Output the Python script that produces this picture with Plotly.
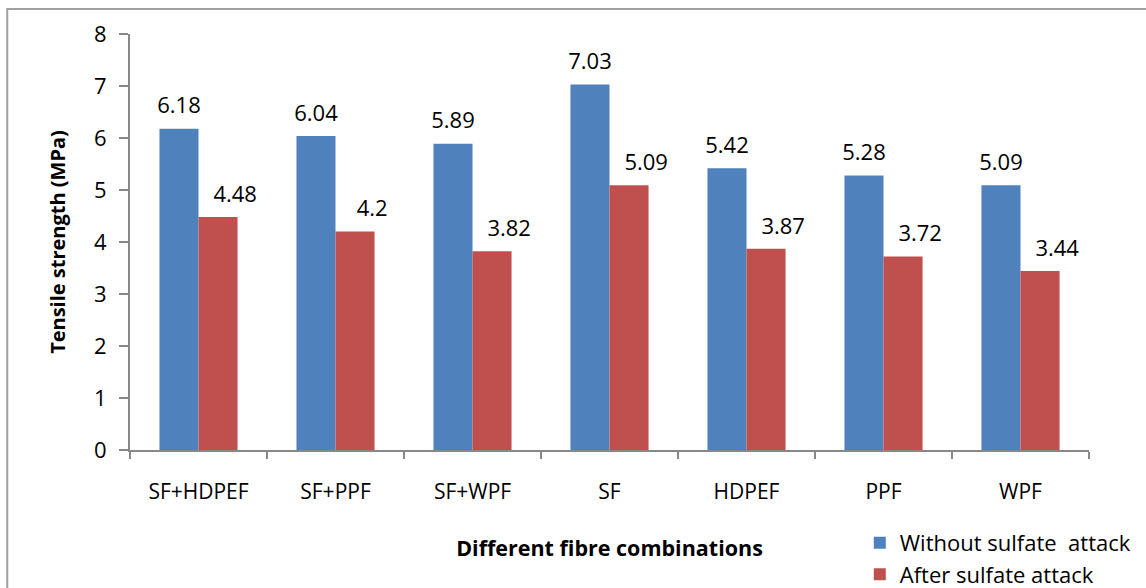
import plotly.graph_objects as go

categories = ["SF+HDPEF", "SF+PPF", "SF+WPF", "SF", "HDPEF", "PPF", "WPF"]
without_attack = [6.18, 6.04, 5.89, 7.03, 5.42, 5.28, 5.09]
after_attack = [4.48, 4.2, 3.82, 5.09, 3.87, 3.72, 3.44]
without_labels = ["6.18", "6.04", "5.89", "7.03", "5.42", "5.28", "5.09"]
after_labels = ["4.48", "4.2", "3.82", "5.09", "3.87", "3.72", "3.44"]

FONT = "Open Sans"
BLUE = "#4F81BD"
RED = "#C0504D"
fig = go.Figure()
fig.add_trace(go.Bar(x=categories, y=without_attack, name="Without sulfate  attack",
                     offsetgroup="a", marker=dict(color=BLUE, line=dict(width=0))))
fig.add_trace(go.Bar(x=categories, y=after_attack, name="After sulfate attack",
                     offsetgroup="b", marker=dict(color=RED, line=dict(width=0))))
# data labels, grouped to sit over their bars (red labels sit a little to the right, as in the original)
for vals, labs, grp, tmpl in [(without_attack, without_labels, "a", "%{text}"),
                              (after_attack, after_labels, "b", "\u00a0" * 6 + "%{text}")]:
    fig.add_trace(go.Scatter(x=categories, y=vals, text=labs, mode="markers+text",
                             offsetgroup=grp, textposition="top center", texttemplate=tmpl,
                             marker=dict(size=14, color="rgba(0,0,0,0)"),
                             textfont=dict(size=22, color="black", family=FONT),
                             showlegend=False, hoverinfo="skip", cliponaxis=False))

fig.update_layout(
    width=1146, height=588,
    margin=dict(l=130, r=57, t=34, b=138, autoexpand=False),
    paper_bgcolor="white", plot_bgcolor="white",
    barmode="group", bargap=0.43, bargroupgap=0,
    scattermode="group", scattergap=0.43,
    font=dict(family=FONT, size=20, color="black"),
    showlegend=True,
    legend=dict(x=0.761, y=-0.173, xanchor="left", yanchor="top",
                font=dict(size=22, family=FONT), bgcolor="rgba(0,0,0,0)",
                traceorder="normal"),
    xaxis=dict(showline=True, linecolor="#888888", linewidth=2,
               ticks="outside", tickson="boundaries", ticklen=7, tickcolor="#888888", tickwidth=2,
               tickfont=dict(size=21, family=FONT), ticklabelstandoff=22,
               title=dict(text="<b>Different fibre combinations</b>", font=dict(size=21.5, family=FONT), standoff=37)),
    yaxis=dict(range=[0, 8], dtick=1, showgrid=False, zeroline=False,
               showline=True, linecolor="#888888", linewidth=2,
               ticks="outside", ticklen=9, tickcolor="#888888", tickwidth=2,
               tickfont=dict(size=22, family=FONT), ticklabelstandoff=8,
               title=dict(text="<b>Tensile strength (MPa)</b>", font=dict(size=20, family=FONT), standoff=23)),
    shapes=[dict(type="rect", xref="paper", yref="paper",
                 x0=-0.128, x1=1.2, y0=-0.5, y1=1.06,
                 line=dict(color="#A0A0A0", width=2), fillcolor="rgba(0,0,0,0)", layer="below")],
)

fig.write_html("out.html")
